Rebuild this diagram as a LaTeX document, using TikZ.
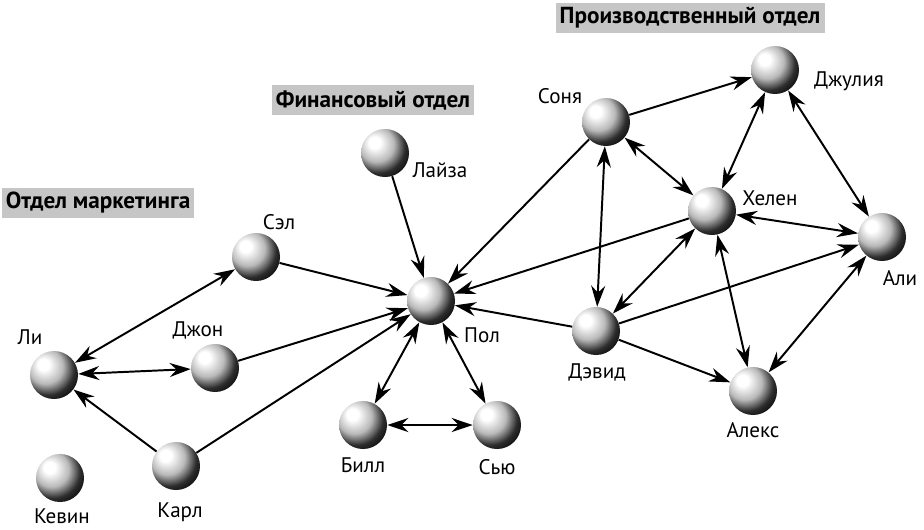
\documentclass[tikz,border=0pt]{standalone}
\usepackage{fontspec}
\setmainfont{PT Sans}
\usetikzlibrary{arrows.meta}

% light-to-dark sphere, highlight up left
\pgfdeclareradialshading{orb}{\pgfpoint{-12bp}{12bp}}{%
	color(0bp)=(white); color(6bp)=(white); color(18bp)=(gray!55);
	color(28bp)=(gray!35!black); color(38bp)=(black); color(70bp)=(black)}

\tikzset{
	person/.style={circle, minimum size=1.2cm, inner sep=0pt, shading=orb},
	tag/.style={font=\fontsize{15}{17}\selectfont},
	dept/.style={fill=gray!45, font=\fontsize{16.5}{18}\selectfont\bfseries, inner sep=3pt, minimum height=0.75cm},
	oneway/.style={line width=1.4pt, -{Stealth[length=15pt, width=10pt, inset=5pt]}},
	twoway/.style={line width=1.4pt, {Stealth[length=15pt, width=10pt, inset=5pt]}-{Stealth[length=15pt, width=10pt, inset=5pt]}}
}

\begin{document}
\begin{tikzpicture}[x=0.025cm, y=-0.025cm]
	\useasboundingbox (0,0) rectangle (924,529);

	% Department headings
	\node[dept] (mkt) at (98,203) {Отдел маркетинга};
	\node[dept] (fin) at (373,100) {Финансовый отдел};
	\node[dept] (prod) at (690,18) {Производственный отдел};

	% People
	\node[person] (Lee) at (54,375) {};
	\node[person] (John) at (215,368) {};
	\node[person] (Kevin) at (60,478) {};
	\node[person] (Carl) at (176,466) {};
	\node[person] (Sal) at (256,257) {};
	\node[person] (Lisa) at (385,153) {};
	\node[person] (Paul) at (431,301) {};
	\node[person] (Bill) at (363,425) {};
	\node[person] (Sue) at (497,425) {};
	\node[person] (Sonya) at (606,122) {};
	\node[person] (Julia) at (775,70) {};
	\node[person] (Helen) at (712,211) {};
	\node[person] (Ali) at (882,237) {};
	\node[person] (David) at (596,331) {};
	\node[person] (Alex) at (753,391) {};

	% Names
	\node[tag] (tLee) at (30,337) {Ли};
	\node[tag] (tJohn) at (198,330) {Джон};
	\node[tag] (tKevin) at (62,516) {Кевин};
	\node[tag] (tCarl) at (180,512) {Карл};
	\node[tag] (tSal) at (279,222) {Сэл};
	\node[tag] (tLisa) at (440,170) {Лайза};
	\node[tag] (tPaul) at (482,335) {Пол};
	\node[tag] (tBill) at (363,465) {Билл};
	\node[tag] (tSue) at (497,467) {Сью};
	\node[tag] (tSonya) at (560,96) {Соня};
	\node[tag] (tJulia) at (849,81) {Джулия};
	\node[tag] (tHelen) at (770,198) {Хелен};
	\node[tag] (tAli) at (900,278) {Али};
	\node[tag] (tDavid) at (597,372) {Дэвид};
	\node[tag] (tAlex) at (753,430) {Алекс};

	% Connections
	\draw[twoway] (Lee) -- (Sal);
	\draw[twoway] (Lee) -- (John);
	\draw[oneway] (Carl) -- (Lee);
	\draw[oneway] (Carl) -- (Paul);
	\draw[oneway] (Sal) -- (Paul);
	\draw[oneway] (John) -- (Paul);
	\draw[oneway] (Lisa) -- (Paul);
	\draw[twoway] (Paul) -- (Bill);
	\draw[twoway] (Paul) -- (Sue);
	\draw[twoway] (Bill) -- (Sue);
	\draw[oneway] (Sonya) -- (Paul);
	\draw[oneway] (Helen) -- (Paul);
	\draw[oneway] (David) -- (Paul);
	\draw[oneway] (Sonya) -- (Julia);
	\draw[twoway] (Sonya) -- (Helen);
	\draw[twoway] (Sonya) -- (David);
	\draw[twoway] (Julia) -- (Helen);
	\draw[twoway] (Julia) -- (Ali);
	\draw[twoway] (Helen) -- (Ali);
	\draw[twoway] (Helen) -- (David);
	\draw[twoway] (Helen) -- (Alex);
	\draw[oneway] (David) -- (Ali);
	\draw[oneway] (David) -- (Alex);
	\draw[twoway] (Alex) -- (Ali);
\end{tikzpicture}
\end{document}
